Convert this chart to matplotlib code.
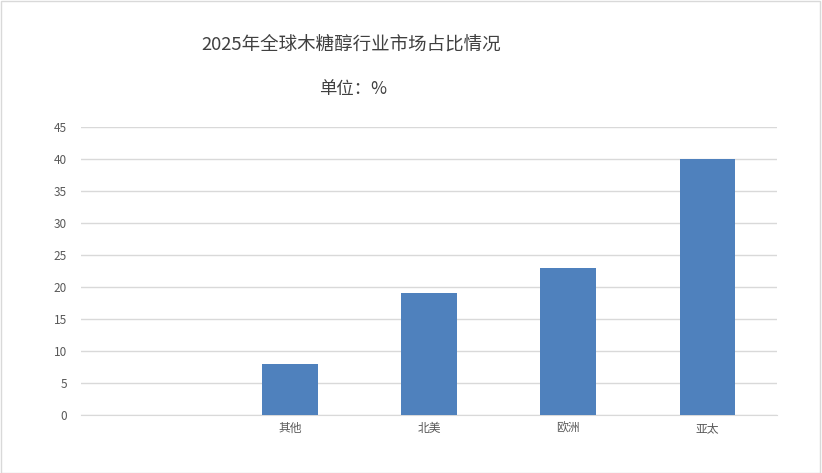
import matplotlib.pyplot as plt
from matplotlib.patches import Rectangle

plt.rcParams['font.family'] = ['Noto Sans CJK SC', 'DejaVu Sans']

# Data
regions = ['', '其他', '北美', '欧洲', '亚太']
shares = [0, 8, 19, 23, 40]
yticks = list(range(0, 50, 5))

fig = plt.figure(figsize=(8.22, 4.73), dpi=100)
ax = fig.add_axes([0.0985, 0.1226, 0.8469, 0.6089])

x = list(range(len(regions)))
ax.bar(x[1:], shares[1:], width=0.4, color='#4F81BD', zorder=3)

ax.set_xlim(-0.5, len(regions) - 0.5)
ax.set_ylim(0, 45)
ax.set_yticks(yticks)
ax.set_xticks(x)
ax.set_xticklabels(regions)

ax.grid(axis='y', color='#D9D9D9', linewidth=1, zorder=0)
for side in ['top', 'right', 'left']:
    ax.spines[side].set_visible(False)
ax.spines['bottom'].set_color('#D9D9D9')
ax.tick_params(axis='both', length=0, colors='#595959', labelsize=8.5)
ax.tick_params(axis='y', pad=10)
ax.tick_params(axis='x', pad=5)

fig.text(0.4275, 0.905, '2025年全球木糖醇行业市场占比情况', ha='center', va='center',
         fontsize=13.3, color='#404040')
fig.text(0.43, 0.812, '单位：%', ha='center', va='center',
         fontsize=12.5, color='#404040')

fig.patches.append(Rectangle((0.001, 0.001), 0.997, 0.997, transform=fig.transFigure,
                             fill=False, edgecolor='#D9D9D9', linewidth=1))

fig.savefig('out.png', dpi=100)
